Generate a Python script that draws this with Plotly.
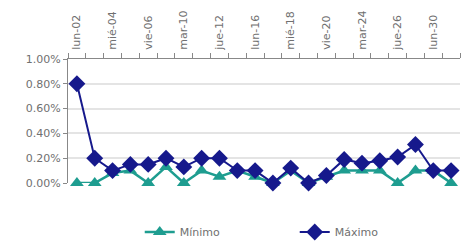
import plotly.graph_objects as go

dates = ["lun-02", "mar-03", "mié-04", "jue-05", "vie-06", "lun-09", "mar-10", "mié-11",
         "jue-12", "vie-13", "lun-16", "mar-17", "mié-18", "jue-19", "vie-20", "lun-23",
         "mar-24", "mié-25", "jue-26", "vie-27", "lun-30", "mar-31"]
minimo = [0.0000, 0.0000, 0.0008, 0.0010, 0.0000, 0.0013, 0.0000, 0.0010, 0.0005, 0.0010, 0.0005,
          0.0000, 0.0010, 0.0000, 0.0005, 0.0010, 0.0010, 0.0010, 0.0000, 0.0010, 0.0010, 0.0000]
maximo = [0.0080, 0.0020, 0.0010, 0.0015, 0.0015, 0.0020, 0.0013, 0.0020, 0.0020, 0.0010, 0.0010,
          0.0000, 0.0012, 0.0000, 0.0006, 0.0019, 0.0016, 0.0018, 0.0021, 0.0031, 0.0010, 0.0010]
y_ticks = [0, 0.002, 0.004, 0.006, 0.008, 0.010]
tick_text = [d if i % 2 == 0 else "" for i, d in enumerate(dates)]

TEAL = "#1e9d90"
NAVY = "#16198c"
FONT = "DejaVu Sans"
TXT = "#707070"

fig = go.Figure()
fig.add_trace(go.Scatter(
    x=dates, y=minimo, name="Mínimo", mode="lines+markers",
    line=dict(color=TEAL, width=2.5),
    marker=dict(symbol="triangle-up", size=12, color=TEAL),
    cliponaxis=False,
))
fig.add_trace(go.Scatter(
    x=dates, y=maximo, name="Máximo", mode="lines+markers",
    line=dict(color=NAVY, width=2),
    marker=dict(symbol="diamond", size=13, color=NAVY),
    cliponaxis=False,
))

fig.update_layout(
    width=474, height=247,
    template="none",
    margin=dict(l=68, r=14, t=59, b=64, autoexpand=False),
    paper_bgcolor="white", plot_bgcolor="white",
    font=dict(family=FONT, size=11, color=TXT),
    showlegend=True,
    legend=dict(orientation="h", x=0.183, xanchor="left", y=-0.395, yanchor="middle",
                entrywidth=110, entrywidthmode="pixels",
                font=dict(family=FONT, size=11, color=TXT),
                bgcolor="rgba(0,0,0,0)"),
)
fig.update_xaxes(
    type="category", side="top", range=[-0.5, len(dates) - 0.5], automargin=False,
    tickvals=dates, ticktext=tick_text, tickangle=-90,
    tickson="boundaries", ticks="outside", ticklen=5, tickcolor="#888888",
    ticklabelstandoff=6,
    showline=True, linecolor="#888888", linewidth=1,
    showgrid=False, zeroline=False,
    tickfont=dict(family=FONT, size=11, color=TXT),
)
fig.update_yaxes(
    range=[0, 0.010], tickvals=y_ticks, tickformat=".2%", automargin=False,
    ticks="outside", ticklen=4, tickcolor="#888888",
    showline=True, linecolor="#888888", linewidth=1,
    showgrid=True, gridcolor="#e4e4e4", gridwidth=1.5,
    zeroline=False,
    tickfont=dict(family=FONT, size=11, color=TXT),
)

fig.write_html("out.html", config={"displayModeBar": False},
               post_script="document.body.style.margin='0';")
